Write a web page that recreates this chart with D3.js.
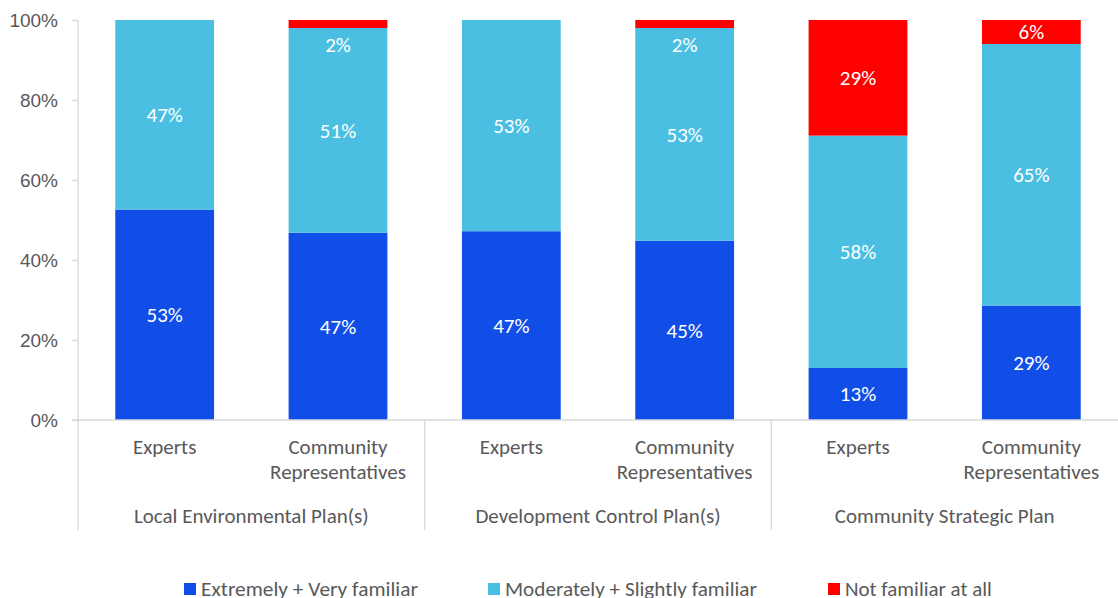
<!DOCTYPE html>
<html>
<head>
<meta charset="utf-8">
<script src="https://cdn.jsdelivr.net/npm/d3@7"></script>
<style>
  html, body { margin: 0; padding: 0; background: #fff; }
  svg { display: block; font-family: Carlito, Calibri, Lato, sans-serif; }
</style>
</head>
<body>
<svg id="chart" width="1118" height="598"></svg>
<script>
// Familiarity with planning instruments, by respondent type (percent of respondents)
const groups = ["Local Environmental Plan(s)", "Development Control Plan(s)", "Community Strategic Plan"];
const respondents = ["Experts", "Community Representatives"];
const extremelyVery = [52.6, 46.8, 47.2, 44.8, 13.0, 28.6];
const moderatelySlightly = [47.4, 51.2, 52.8, 53.2, 58.1, 65.4];
const notFamiliar = [0, 2.0, 0, 2.0, 28.9, 6.0];
const seriesNames = ["Extremely + Very familiar", "Moderately + Slightly familiar", "Not familiar at all"];
const seriesColors = ["#114ee8", "#4bbfe2", "#ff0000"];
const yTicks = [0, 20, 40, 60, 80, 100];

const svg = d3.select("#chart");
const margin = { left: 78, right: 0, top: 20, bottom: 178 };
const W = 1118, H = 598;
const x0 = margin.left, x1 = W - margin.right;
const yTop = margin.top, yBottom = H - margin.bottom;

// one row per bar
const rows = [];
groups.forEach((g, gi) => respondents.forEach((r, ri) => {
  const i = gi * respondents.length + ri;
  rows.push({ key: g + "|" + r, group: g, resp: r, vals: [extremelyVery[i], moderatelySlightly[i], notFamiliar[i]] });
}));

const x = d3.scaleBand().domain(rows.map(d => d.key)).range([x0, x1])
  .paddingInner(0.43).paddingOuter(0.215);
const y = d3.scaleLinear().domain([0, 100]).range([yBottom, yTop]);

const stack = d3.stack().keys([0, 1, 2]).value((d, k) => d.vals[k]);
const layers = stack(rows);

const textColor = "#595959";
const lineColor = "#d9d9d9";

// bars
layers.forEach((layer, k) => {
  svg.append("g").selectAll("rect").data(layer).join("rect")
    .attr("x", d => x(d.data.key))
    .attr("width", x.bandwidth())
    .attr("y", d => y(d[1]))
    .attr("height", d => y(d[0]) - y(d[1]))
    .attr("fill", seriesColors[k]);
});

// value labels
const fmt = v => Math.round(v) + "%";
layers.forEach((layer, k) => {
  svg.append("g").selectAll("text").data(layer.filter(d => d.data.vals[k] > 0)).join("text")
    .attr("x", d => x(d.data.key) + x.bandwidth() / 2)
    .attr("y", d => {
      const top = y(d[1]), bot = y(d[0]);
      // thin segments get their label just beneath them
      return (bot - top < 12 ? bot + 17 : (top + bot) / 2);
    })
    .attr("dy", "0.35em")
    .attr("text-anchor", "middle")
    .attr("fill", "#ffffff")
    .attr("font-size", 21)
    .text(d => fmt(d.data.vals[k]));
});

// y axis
const yAxis = d3.axisLeft(y).tickValues(yTicks).tickFormat(d => d + "%").tickSize(6).tickPadding(14);
const gy = svg.append("g").attr("transform", `translate(${x0},0)`).call(yAxis);
gy.select(".domain").remove();
gy.selectAll(".tick line").attr("stroke", lineColor).attr("stroke-width", 1.3);
gy.selectAll(".tick text").attr("fill", textColor).attr("font-size", 19).attr("font-family", null);
svg.append("line").attr("x1", x0).attr("x2", x0).attr("y1", yTop).attr("y2", 530)
  .attr("stroke", lineColor).attr("stroke-width", 1.3);

// x axis baseline
svg.append("line").attr("x1", x0 - 6).attr("x2", x1).attr("y1", yBottom).attr("y2", yBottom)
  .attr("stroke", lineColor).attr("stroke-width", 1.3);

// group separators and group labels
const groupWidth = (x1 - x0) / groups.length;
groups.forEach((g, gi) => {
  if (gi > 0) {
    const gx = x0 + gi * groupWidth;
    svg.append("line").attr("x1", gx).attr("x2", gx).attr("y1", yBottom).attr("y2", 530)
      .attr("stroke", lineColor).attr("stroke-width", 1.3);
  }
  svg.append("text")
    .attr("x", x0 + (gi + 0.5) * groupWidth).attr("y", 516).attr("dy", "0.35em")
    .attr("text-anchor", "middle").attr("fill", textColor).attr("font-size", 21)
    .text(g);
});

// category labels (wrapped)
rows.forEach(d => {
  const cx = x(d.key) + x.bandwidth() / 2;
  const t = svg.append("text")
    .attr("x", cx).attr("y", 447)
    .attr("text-anchor", "middle").attr("fill", textColor).attr("font-size", 21);
  d.resp.split(" ").forEach((w, wi) => {
    t.append("tspan").attr("x", cx).attr("dy", wi === 0 ? "0.35em" : 25).text(w);
  });
});

// legend: swatch + label, label fitted to its slot width
const legendX = [184, 488, 828];
const legendLen = [217, 252, 147];
seriesNames.forEach((name, k) => {
  const g = svg.append("g").attr("transform", `translate(${legendX[k]},589)`);
  g.append("rect").attr("x", 0).attr("y", -6).attr("width", 12).attr("height", 12).attr("fill", seriesColors[k]);
  const t = g.append("text").attr("x", 0).attr("y", 0).attr("dy", "0.35em")
    .attr("fill", textColor).attr("font-size", 21).text(name);
  const natural = t.node().getComputedTextLength();
  t.attr("transform", `translate(${k === 0 ? 17 : 17},0) scale(${legendLen[k] / natural},1)`);
});
</script>
</body>
</html>
